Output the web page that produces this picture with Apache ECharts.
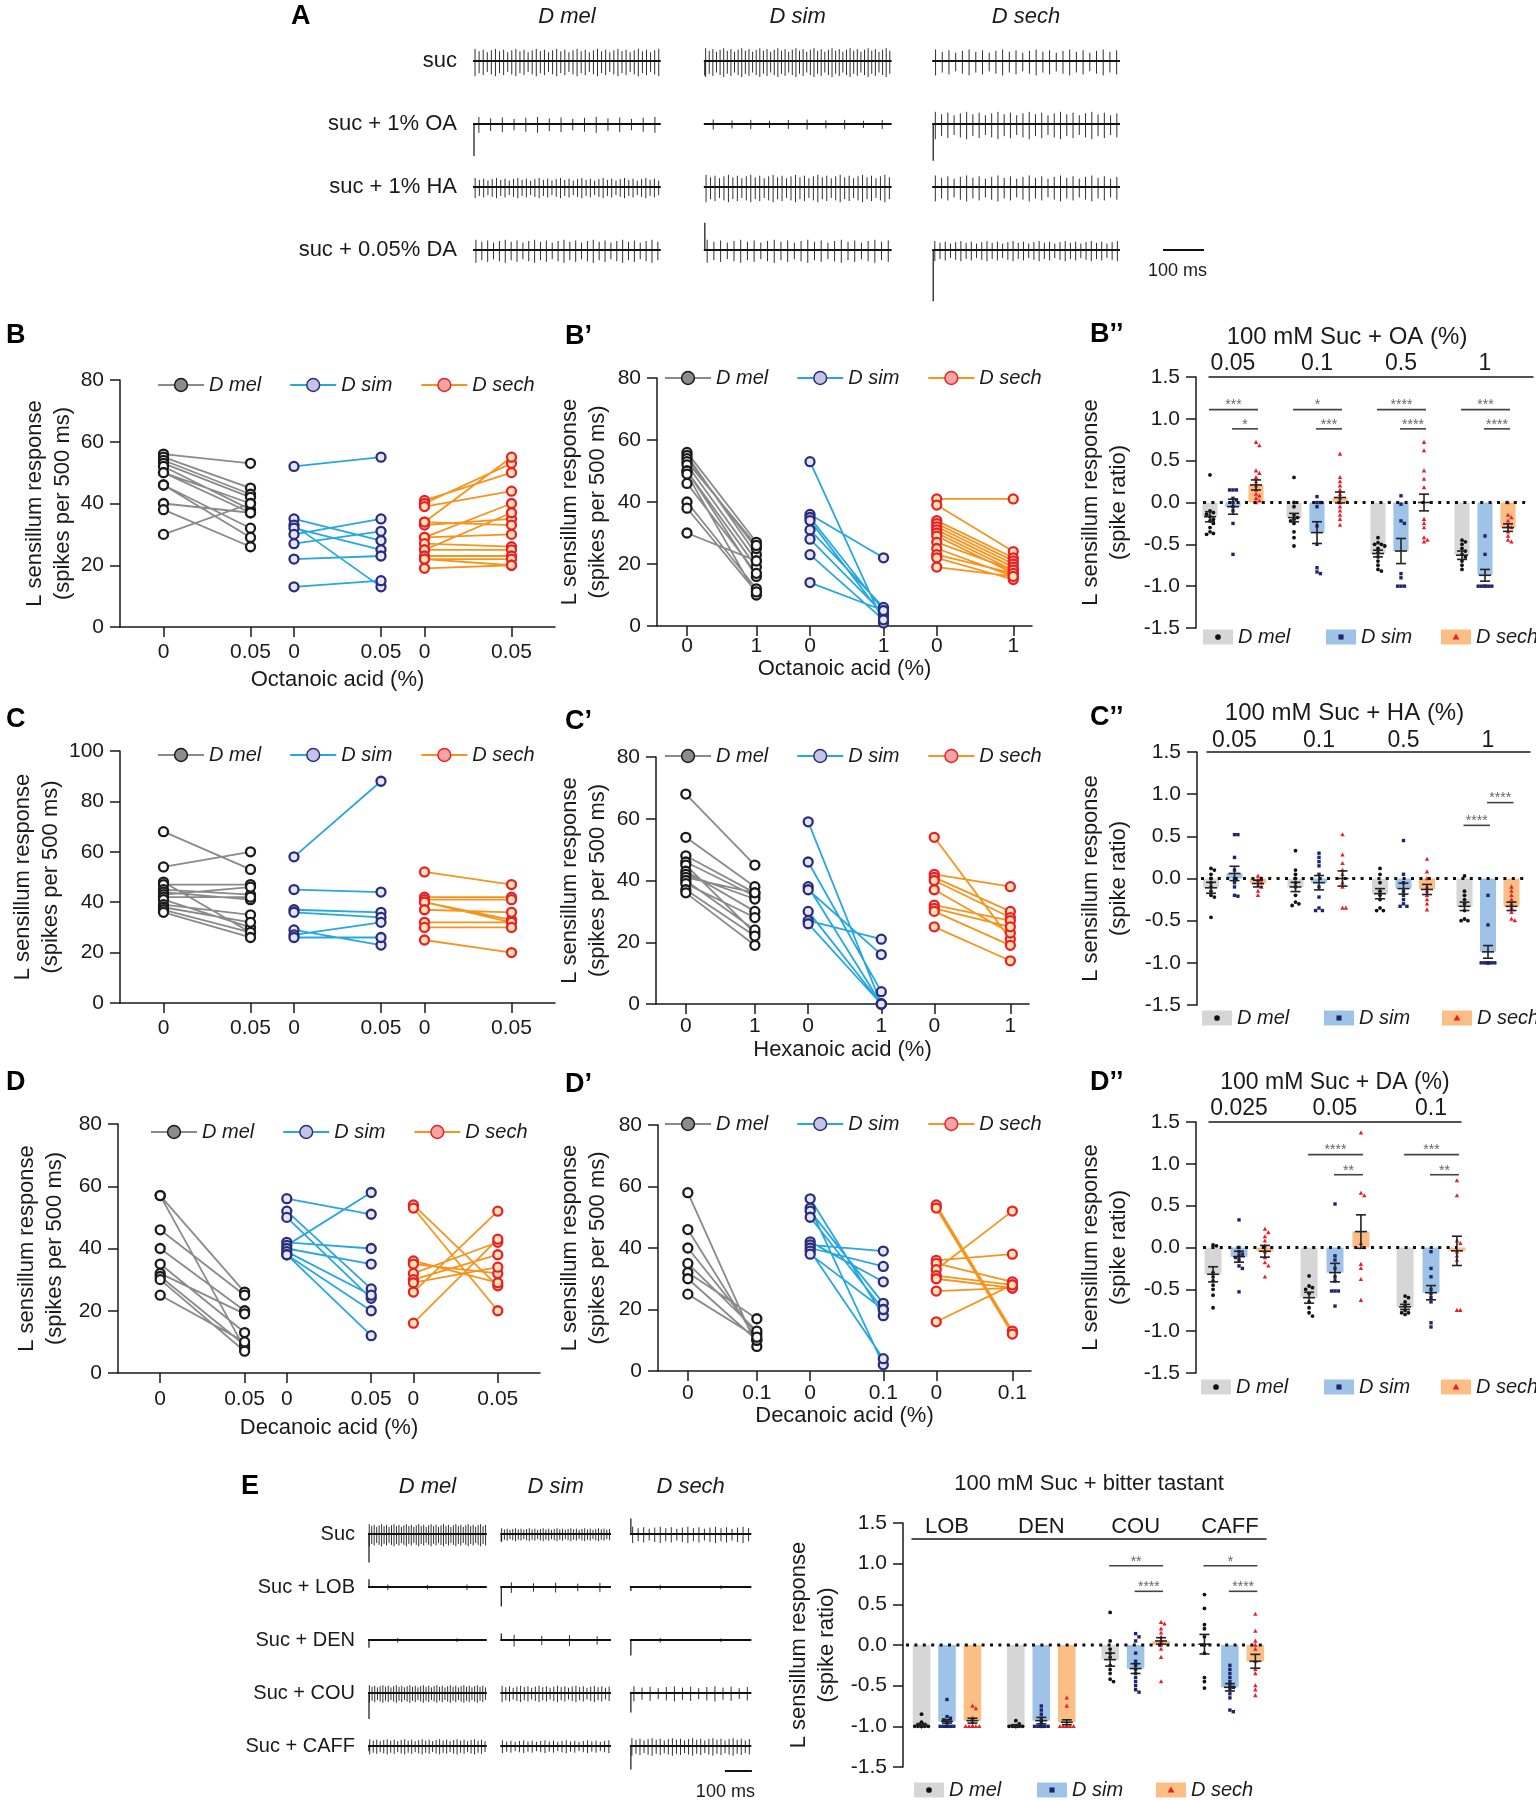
<!DOCTYPE html>
<html><head><meta charset="utf-8">
<script src="https://cdn.jsdelivr.net/npm/echarts@6/dist/echarts.min.js"></script>
<style>html,body{margin:0;padding:0;background:#fff}#c{width:1536px;height:1800px}</style>
</head><body><div id="c"></div>
<script>
// ================= DATA =================
const SPECIES = ['D mel', 'D sim', 'D sech'];

// ---- Panel A traces ----
const traceA_rows = ['suc', 'suc + 1% OA', 'suc + 1% HA', 'suc + 0.05% DA'];
const traceA_cols = ['D mel', 'D sim', 'D sech'];
const traceA_spikes = [[46, 52, 28], [16, 10, 30], [44, 42, 30], [32, 28, 36]];
const traceA_amp = [[0.95, 1.0, 0.9], [0.55, 0.35, 0.95], [0.7, 0.95, 0.9], [0.8, 0.8, 0.7]];
const traceA_art = [[0, -0.9, 0], [-2.0, 0, -2.3], [0, 0, 0], [0, 1.7, -3.2]];

// ---- Panel E traces ----
const traceE_rows = ['Suc', 'Suc + LOB', 'Suc + DEN', 'Suc + COU', 'Suc + CAFF'];
const traceE_cols = ['D mel', 'D sim', 'D sech'];
const traceE_spikes = [[48, 40, 22], [3, 5, 2], [2, 4, 2], [44, 30, 15], [34, 26, 30]];
const traceE_amp = [[0.95, 0.55, 0.7], [0.25, 0.45, 0.2], [0.2, 0.5, 0.2], [0.75, 0.7, 0.65], [0.65, 0.55, 0.75]];
const traceE_art = [[-2.2, -0.6, 1.2], [0.6, -1.5, -0.3], [-0.6, 0.5, -1.2], [-2.0, 0, -1.5], [-0.4, 0, -1.8]];

// ---- Paired panels (spikes per 500 ms): before / after ----
const B_mel_0 = [56, 55, 54, 53, 52, 50, 50, 46, 46, 40, 38, 30];
const B_mel_1 = [53, 45, 43, 42, 38, 40, 37, 32, 29, 37, 26, 40];
const B_sim_0 = [52, 35, 33, 32, 30, 27, 22, 13];
const B_sim_1 = [55, 28, 13, 25, 35, 31, 23, 15];
const B_sech_0 = [41, 40, 39, 34, 33, 34, 29, 29, 27, 25, 25, 23, 22, 22, 19];
const B_sech_1 = [50, 53, 44, 55, 35, 33, 40, 30, 26, 37, 25, 23, 22, 20, 20];
const B_ticks = ['0', '0.05', '0', '0.05', '0', '0.05'];

const Bp_mel_0 = [56, 55, 54, 53, 52, 50, 50, 49, 46, 40, 38, 30];
const Bp_mel_1 = [27, 23, 25, 26, 21, 19, 16, 10, 17, 12, 11, 21];
const Bp_sim_0 = [53, 36, 35, 34, 31, 28, 23, 14];
const Bp_sim_1 = [1, 22, 5, 3, 6, 4, 2, 5];
const Bp_sech_0 = [41, 39, 34, 33, 32, 31, 30, 29, 27, 25, 23, 22, 19];
const Bp_sech_1 = [41, 24, 22, 21, 20, 19, 18, 17, 18, 16, 17, 15, 16];
const Bp_ticks = ['0', '1', '0', '1', '0', '1'];

const C_mel_0 = [68, 54, 48, 47, 45, 44, 43, 42, 41, 39, 38, 37, 36];
const C_mel_1 = [53, 60, 28, 47, 43, 41, 46, 42, 30, 35, 32, 28, 26];
const C_sim_0 = [58, 45, 37, 36, 29, 27, 26];
const C_sim_1 = [88, 44, 36, 34, 23, 32, 26];
const C_sech_0 = [52, 42, 41, 40, 40, 37, 32, 30, 25];
const C_sech_1 = [47, 42, 41, 33, 32, 36, 32, 30, 20];
const C_ticks = ['0', '0.05', '0', '0.05', '0', '0.05'];

const Cp_mel_0 = [68, 54, 48, 46, 45, 43, 42, 41, 40, 39, 37, 36];
const Cp_mel_1 = [45, 38, 36, 35, 23, 30, 34, 36, 24, 28, 22, 19];
const Cp_sim_0 = [59, 46, 38, 37, 30, 27, 26];
const Cp_sim_1 = [0, 4, 0, 16, 0, 21, 0];
const Cp_sech_0 = [54, 42, 41, 40, 37, 32, 31, 30, 25];
const Cp_sech_1 = [21, 38, 30, 28, 23, 27, 25, 19, 14];
const Cp_ticks = ['0', '1', '0', '1', '0', '1'];

const D_mel_0 = [57, 57, 46, 40, 35, 32, 31, 30, 25];
const D_mel_1 = [8, 26, 25, 20, 13, 19, 9, 7, 10];
const D_sim_0 = [56, 52, 50, 42, 41, 40, 39, 38, 38];
const D_sim_1 = [51, 27, 24, 40, 58, 35, 25, 20, 12];
const D_sech_0 = [54, 53, 36, 35, 32, 30, 29, 26, 16];
const D_sech_1 = [28, 20, 29, 32, 42, 38, 34, 52, 43];
const D_ticks = ['0', '0.05', '0', '0.05', '0', '0.05'];

const Dp_mel_0 = [58, 46, 40, 35, 32, 30, 25];
const Dp_mel_1 = [8, 10, 12, 13, 17, 10, 11];
const Dp_sim_0 = [56, 53, 52, 50, 42, 41, 40, 39, 38];
const Dp_sim_1 = [18, 2, 22, 20, 29, 39, 34, 4, 20];
const Dp_sech_0 = [54, 53, 36, 35, 33, 31, 30, 26, 16];
const Dp_sech_1 = [13, 12, 38, 29, 52, 28, 27, 27, 28];
const Dp_ticks = ['0', '0.1', '0', '0.1', '0', '0.1'];

// ---- Spike-ratio bar panels ----
const BB_groups = ['0.05', '0.1', '0.5', '1'];
const BB_mel_mean = [-0.17, -0.18, -0.61, -0.63];
const BB_sim_mean = [-0.05, -0.36, -0.58, -0.87];
const BB_sech_mean = [0.21, 0.06, 0.0, -0.3];
const BB_mel_sem = [0.06, 0.05, 0.04, 0.05];
const BB_sim_sem = [0.09, 0.13, 0.15, 0.07];
const BB_sech_sem = [0.06, 0.065, 0.1, 0.045];
const BB_mel_pts = [[0.33, -0.1, -0.12, -0.14, -0.17, -0.2, -0.22, -0.25, -0.3, -0.35, -0.37, -0.38],
  [0.3, 0.0, -0.05, -0.15, -0.18, -0.2, -0.22, -0.25, -0.35, -0.42, -0.52],
  [-0.42, -0.48, -0.5, -0.5, -0.52, -0.55, -0.6, -0.65, -0.7, -0.75, -0.8, -0.82],
  [-0.45, -0.47, -0.5, -0.55, -0.58, -0.62, -0.65, -0.7, -0.75, -0.8]];
const BB_sim_pts = [[0.15, 0.15, 0.15, 0.05, 0.03, 0.0, -0.05, -0.1, -0.25, -0.62],
  [0.07, 0.0, 0.0, -0.05, -0.28, -0.5, -0.78, -0.83, -0.85],
  [0.08, -0.02, -0.22, -0.25, -0.85, -0.9, -1.0, -1.0, -1.0],
  [-0.4, -0.62, -1.0, -1.0, -1.0, -1.0, -1.0, -1.0]];
const BB_sech_pts = [[0.72, 0.68, 0.38, 0.35, 0.3, 0.25, 0.2, 0.15, 0.1, 0.08, 0.05, 0.02, 0.0],
  [0.58, 0.3, 0.25, 0.2, 0.15, 0.1, 0.05, 0.0, -0.05, -0.1, -0.15, -0.2, -0.27],
  [0.72, 0.62, 0.38, 0.28, 0.18, -0.2, -0.25, -0.3, -0.42, -0.45, -0.47],
  [0.0, -0.15, -0.18, -0.22, -0.28, -0.3, -0.35, -0.4, -0.45, -0.47]];
const BB_sig = [[0, 0, 2, 1, '***'], [0, 1, 2, 0, '*'], [1, 0, 2, 1, '*'], [1, 1, 2, 0, '***'],
  [2, 0, 2, 1, '****'], [2, 1, 2, 0, '****'], [3, 0, 2, 1, '***'], [3, 1, 2, 0, '****']];

const CC_groups = ['0.05', '0.1', '0.5', '1'];
const CC_mel_mean = [-0.11, -0.1, -0.18, -0.33];
const CC_sim_mean = [0.06, -0.05, -0.12, -0.87];
const CC_sech_mean = [-0.06, 0.0, -0.13, -0.33];
const CC_mel_sem = [0.065, 0.055, 0.06, 0.05];
const CC_sim_sem = [0.085, 0.085, 0.065, 0.075];
const CC_sech_sem = [0.04, 0.09, 0.06, 0.05];
const CC_mel_pts = [[0.12, 0.1, 0.05, 0.0, -0.05, -0.1, -0.15, -0.2, -0.22, -0.46],
  [0.33, 0.1, 0.05, 0.0, -0.05, -0.1, -0.2, -0.28, -0.3, -0.32],
  [0.12, 0.05, -0.05, -0.15, -0.2, -0.25, -0.35, -0.38, -0.38],
  [0.03, -0.15, -0.2, -0.25, -0.3, -0.38, -0.48, -0.5, -0.5]];
const CC_sim_pts = [[0.52, 0.52, 0.25, 0.1, 0.0, -0.05, -0.1, -0.2, -0.21],
  [0.3, 0.25, 0.2, 0.15, 0.05, -0.1, -0.22, -0.35, -0.38, -0.38],
  [0.45, 0.05, -0.05, -0.15, -0.2, -0.25, -0.3, -0.33, -0.33],
  [-0.2, -0.55, -1.0, -1.0, -1.0, -1.0, -1.0, -1.0, -1.0]];
const CC_sech_pts = [[0.03, 0.0, -0.02, -0.05, -0.08, -0.1, -0.15, -0.2],
  [0.52, 0.28, 0.18, 0.1, 0.05, -0.05, -0.1, -0.35, -0.35],
  [0.23, 0.08, 0.0, -0.1, -0.15, -0.2, -0.25, -0.3, -0.37],
  [-0.1, -0.15, -0.2, -0.25, -0.3, -0.35, -0.4, -0.48, -0.5]];
const CC_sig = [[3, 0, 1, 0, '****'], [3, 1, 2, 1, '****']];

const DD_groups = ['0.025', '0.05', '0.1'];
const DD_mel_mean = [-0.32, -0.6, -0.71];
const DD_sim_mean = [-0.11, -0.3, -0.54];
const DD_sech_mean = [-0.045, 0.19, -0.04];
const DD_mel_sem = [0.09, 0.065, 0.03];
const DD_sim_sem = [0.065, 0.11, 0.085];
const DD_sech_sem = [0.07, 0.2, 0.175];
const DD_mel_pts = [[0.03, 0.02, -0.3, -0.35, -0.4, -0.45, -0.5, -0.57, -0.72],
  [-0.34, -0.46, -0.48, -0.5, -0.55, -0.65, -0.72, -0.78, -0.82],
  [-0.58, -0.6, -0.65, -0.7, -0.75, -0.78, -0.78, -0.8]];
const DD_sim_pts = [[0.33, 0.0, -0.05, -0.08, -0.1, -0.12, -0.15, -0.22, -0.25, -0.53],
  [0.52, -0.1, -0.15, -0.25, -0.35, -0.4, -0.52, -0.52, -0.52, -0.7],
  [-0.05, -0.25, -0.35, -0.5, -0.55, -0.6, -0.65, -0.9, -0.95]];
const DD_sech_pts = [[0.22, 0.18, 0.13, 0.08, 0.02, -0.05, -0.12, -0.18, -0.22, -0.35],
  [1.37, 0.65, 0.62, 0.05, -0.2, -0.25, -0.38, -0.63],
  [0.8, 0.62, 0.08, 0.05, -0.05, -0.1, -0.15, -0.75, -0.75]];
const DD_sig = [[1, 0, 2, 1, '****'], [1, 1, 2, 0, '**'], [2, 0, 2, 1, '***'], [2, 1, 2, 0, '**']];

const EE_groups = ['LOB', 'DEN', 'COU', 'CAFF'];
const EE_mel_mean = [-0.98, -0.99, -0.18, 0.01];
const EE_sim_mean = [-0.94, -0.93, -0.29, -0.52];
const EE_sech_mean = [-0.93, -0.95, 0.05, -0.2];
const EE_mel_sem = [0.015, 0.01, 0.08, 0.12];
const EE_sim_sem = [0.02, 0.04, 0.06, 0.045];
const EE_sech_sem = [0.03, 0.03, 0.04, 0.085];
const EE_mel_pts = [[-0.85, -0.95, -1, -1, -1, -1, -1, -1, -1, -1, -1, -1],
  [-0.93, -0.97, -1, -1, -1, -1, -1, -1, -1, -1, -1],
  [0.4, 0.05, -0.05, -0.1, -0.15, -0.25, -0.3, -0.35, -0.42, -0.45],
  [0.62, 0.45, 0.25, 0.2, 0.1, 0.0, -0.1, -0.4, -0.45, -0.53]];
const EE_sim_pts = [[-0.67, -0.88, -0.9, -0.92, -0.95, -1, -1, -1, -1, -1, -1, -1, -1],
  [-0.75, -0.8, -0.85, -0.9, -0.95, -1, -1, -1, -1, -1, -1, -1, -1, -1],
  [0.14, 0.1, 0.05, -0.1, -0.2, -0.25, -0.3, -0.35, -0.4, -0.45, -0.5, -0.55, -0.58],
  [-0.25, -0.3, -0.35, -0.4, -0.45, -0.5, -0.52, -0.55, -0.6, -0.65, -0.8, -0.82]];
const EE_sech_pts = [[-0.75, -0.78, -0.9, -0.95, -1, -1, -1, -1, -1, -1, -1, -1],
  [-0.65, -0.75, -1, -1, -1, -1, -1, -1, -1, -1, -1, -1],
  [0.28, 0.26, 0.2, 0.15, 0.1, 0.05, 0.0, -0.05, -0.15, -0.45],
  [0.38, 0.17, 0.05, 0.0, -0.05, -0.2, -0.3, -0.35, -0.5, -0.55, -0.62]];
const EE_sig = [[2, 0, 2, 1, '**'], [2, 1, 2, 0, '****'], [3, 0, 2, 1, '*'], [3, 1, 2, 0, '****']];

// ================= STYLE / LAYOUT =================
const FONT = 'Liberation Sans';
const INK = '#1a1a1a';
const LINE_COLOR = ['#8a8a8a', '#27a7e0', '#f7941d'];
const DOT_BORDER = ['#1a1a1a', '#2a2d7c', '#e8202a'];
const DOT_FILL = ['#ffffff', '#e6e6f5', '#fbe3b0'];
const LEG_FILL = ['#8c8c8c', '#c6c4e6', '#f5a4a4'];
const BAR_FILL = ['#d6d6d6', '#9fc3e7', '#fbbf86'];
const PT_COLOR = ['#111111', '#1d2470', '#ee1c25'];
const POS_STD = [1, 3, 4, 6, 7, 9];
const POS_PRIME = [0.8, 2.65, 4.08, 6.04, 7.46, 9.5];
const TITLE_FS = 22;

const grids = [], xAxes = [], yAxes = [], series = [], legends = [];
const axisLineStyle = { color: INK, width: 1.5 };

function swarm(ys, d, maxOff) {
  const idx = ys.map((_, i) => i).sort((a, b) => ys[a] - ys[b]);
  const placed = [], off = [];
  const cands = [0];
  for (let k = 1; k * d <= maxOff + 0.01; k++) cands.push(k * d, -k * d);
  for (const i of idx) {
    let best = 0, bestScore = -1;
    for (const o of cands) {
      let m = Infinity;
      for (const p of placed) { const dd = Math.hypot(p[0] - o, p[1] - ys[i]); if (dd < m) m = dd; }
      if (m >= d) { best = o; break; }
      if (m > bestScore) { bestScore = m; best = o; }
    }
    off[i] = best; placed.push([best, ys[i]]);
  }
  return off;
}

function marker(s, x, y, k) {
  if (s === 0) return { type: 'circle', shape: { cx: x, cy: y, r: 1.9 * k }, style: { fill: PT_COLOR[0] } };
  if (s === 1) return { type: 'rect', shape: { x: x - 1.7 * k, y: y - 1.7 * k, width: 3.4 * k, height: 3.4 * k }, style: { fill: PT_COLOR[1] } };
  return { type: 'polygon', shape: { points: [[x, y - 2.4 * k], [x + 2.2 * k, y + 1.7 * k], [x - 2.2 * k, y + 1.7 * k]] }, style: { fill: PT_COLOR[2] } };
}

function addLinePanel(P, pairs) {
  const i = grids.length;
  grids.push({ left: P.left, top: P.top, width: P.width, height: P.height });
  xAxes.push({
    gridIndex: i, type: 'value', min: 0, max: 10,
    name: P.xTitle || '', nameLocation: 'middle', nameGap: P.nameGap || 40,
    nameTextStyle: { fontSize: TITLE_FS, color: INK, fontFamily: FONT },
    axisLine: { show: true, onZero: false, lineStyle: axisLineStyle },
    axisTick: { show: true, customValues: P.xPos, length: 10, lineStyle: axisLineStyle },
    axisLabel: { customValues: P.xPos, margin: P.labelMargin, fontSize: 21, color: INK, fontFamily: FONT,
      formatter: v => { const j = P.xPos.findIndex(p => Math.abs(p - v) < 1e-6); return j >= 0 ? P.xLabels[j] : ''; } },
    splitLine: { show: false }
  });
  yAxes.push({
    gridIndex: i, type: 'value', min: 0, max: P.yMax, interval: 20,
    name: 'L sensillum response\n(spikes per 500 ms)', nameLocation: 'middle', nameGap: P.yNameGap,
    nameTextStyle: { fontSize: TITLE_FS, lineHeight: 28, color: INK, fontFamily: FONT },
    axisLine: { show: true, onZero: false, lineStyle: axisLineStyle },
    axisTick: { show: true, length: 10, lineStyle: axisLineStyle },
    axisLabel: { fontSize: 21, margin: 16, color: INK, fontFamily: FONT },
    splitLine: { show: false }
  });
  pairs.forEach((pr, s) => {
    const a = pr[0], b = pr[1], data = [];
    a.forEach((v, k) => { data.push([P.xPos[2 * s], v], [P.xPos[2 * s + 1], b[k]], [P.xPos[2 * s + 1], '-']); });
    series.push({
      type: 'line', name: SPECIES[s], xAxisIndex: i, yAxisIndex: i, data,
      symbol: 'circle', symbolSize: 9, connectNulls: false, animation: false, z: 3,
      lineStyle: { color: LINE_COLOR[s], width: 1.8 },
      itemStyle: { color: DOT_FILL[s], borderColor: DOT_BORDER[s], borderWidth: 2.3 },
      emphasis: { disabled: true }
    });
  });
  legends.push({
    left: P.legLeft, top: P.legTop, itemWidth: 46, itemHeight: 16, itemGap: 28, selectedMode: false, padding: 0,
    textStyle: { fontSize: 20, fontStyle: 'italic', color: INK, fontFamily: FONT },
    data: SPECIES.map((n, s) => ({ name: n, itemStyle: { color: LEG_FILL[s], borderColor: DOT_BORDER[s], borderWidth: 1.5 },
      lineStyle: { color: LINE_COLOR[s], width: 2 } }))
  });
}

function addBarPanel(P, D) {
  const i = grids.length;
  grids.push({ left: P.left, top: P.top, width: P.width, height: P.height });
  const xmin = -P.firstPx / P.band, xmax = (P.width - P.firstPx) / P.band;
  const gIdx = D.groups.map((_, g) => g);
  xAxes.push({
    gridIndex: i, type: 'value', position: 'top', min: xmin, max: xmax, offset: P.headOffset || 0,
    name: P.title, nameLocation: 'middle', nameGap: P.titleGap,
    nameTextStyle: { fontSize: P.titleFs, color: INK, fontFamily: FONT, padding: [0, 2 * (P.titleShift || 0), 0, 0] },
    axisLine: { show: true, onZero: false, lineStyle: axisLineStyle }, axisTick: { show: false },
    axisLabel: { customValues: gIdx, margin: P.groupMargin, fontSize: P.headFs, color: INK, fontFamily: FONT,
      formatter: v => D.groups[Math.round(v)] },
    splitLine: { show: false }
  });
  yAxes.push({
    gridIndex: i, type: 'value', min: -1.5, max: 1.5, interval: 0.5, offset: P.yOffset,
    name: 'L sensillum response\n(spike ratio)', nameLocation: 'middle', nameGap: P.yNameGap,
    nameTextStyle: { fontSize: TITLE_FS, lineHeight: 28, color: INK, fontFamily: FONT },
    axisLine: { show: true, onZero: false, lineStyle: axisLineStyle },
    axisTick: { show: true, length: 10, lineStyle: axisLineStyle },
    axisLabel: { fontSize: 21, margin: 16, color: INK, fontFamily: FONT, formatter: v => v.toFixed(1) },
    splitLine: { show: false }
  });
  for (let s = 0; s < 3; s++) {
    const means = D.mean[s], sems = D.sem[s], pts = D.pts[s];
    series.push({
      type: 'custom', name: 'bars_' + i + '_' + s, xAxisIndex: i, yAxisIndex: i, z: 2, animation: false, clip: false, silent: true,
      data: means.map((m, g) => [g, m]),
      renderItem: (params, api) => {
        const g = params.dataIndex, m = means[g], e = sems[g];
        const xc = g + (s - 1) * P.spOff;
        const pM = api.coord([xc, m]), p0 = api.coord([xc, 0]);
        const bw = api.size([P.barW, 0])[0];
        const ch = [];
        ch.push({ type: 'rect', shape: { x: pM[0] - bw / 2, y: Math.min(pM[1], p0[1]), width: bw, height: Math.abs(pM[1] - p0[1]) }, style: { fill: BAR_FILL[s] } });
        const ys = pts[g].map(v => api.coord([xc, v])[1]);
        const offs = swarm(ys, 3.4, bw / 2 + 1);
        ys.forEach((y, k) => ch.push(marker(s, pM[0] + offs[k], y, 1)));
        const pHi = api.coord([xc, m + e])[1], pLo = api.coord([xc, m - e])[1];
        const st = { stroke: '#222', lineWidth: 1.6 };
        ch.push({ type: 'line', shape: { x1: pM[0], y1: pHi, x2: pM[0], y2: pLo }, style: st });
        ch.push({ type: 'line', shape: { x1: pM[0] - 5, y1: pHi, x2: pM[0] + 5, y2: pHi }, style: st });
        ch.push({ type: 'line', shape: { x1: pM[0] - 5, y1: pLo, x2: pM[0] + 5, y2: pLo }, style: st });
        ch.push({ type: 'line', shape: { x1: pM[0] - 6, y1: pM[1], x2: pM[0] + 6, y2: pM[1] }, style: st });
        return { type: 'group', children: ch };
      }
    });
  }
  series.push({
    type: 'custom', name: 'decor_' + i, xAxisIndex: i, yAxisIndex: i, z: 5, animation: false, clip: false, silent: true,
    data: [[0, 0]],
    renderItem: (params, api) => {
      const cs = params.coordSys, ch = [];
      const y0 = api.coord([0, 0])[1];
      ch.push({ type: 'line', shape: { x1: cs.x - 6, y1: y0, x2: cs.x + cs.width - 4, y2: y0 }, style: { stroke: '#111', lineWidth: 3, lineDash: [3, 5.4] } });
      D.sig.forEach(([g, a, b, lev, lab]) => {
        const ya = api.coord([0, P.sigLevels[lev]])[1];
        const xa = api.coord([g + (a - 1) * P.spOff, 0])[0] - 1;
        const xb = api.coord([g + (b - 1) * P.spOff, 0])[0] + 2;
        ch.push({ type: 'line', shape: { x1: xa, y1: ya, x2: xb, y2: ya }, style: { stroke: '#444', lineWidth: 1.6 } });
        ch.push({ type: 'text', x: (xa + xb) / 2, y: ya - 4, style: { text: lab, fill: '#666', fontSize: 14, fontFamily: FONT, align: 'center', verticalAlign: 'middle' } });
      });
      const ax = cs.x - P.yOffset, ly = cs.y + cs.height + P.legDy;
      P.legOffs.forEach((o, s) => {
        ch.push({ type: 'rect', shape: { x: ax + o, y: ly - 7.5, width: 30, height: 15 }, style: { fill: BAR_FILL[s] } });
        ch.push(marker(s, ax + o + 15, ly, 1.5));
        ch.push({ type: 'text', x: ax + o + 35, y: ly, style: { text: SPECIES[s], fill: INK, fontSize: 20, fontStyle: 'italic', fontFamily: FONT, align: 'left', verticalAlign: 'middle' } });
      });
      return { type: 'group', children: ch };
    }
  });
}

function addTracePanel(P, T) {
  const i = grids.length;
  grids.push({ left: P.left, top: P.top, width: P.width, height: P.height });
  const centers = T.cols.map((_, c) => P.colStart[c] + P.dur[c] / 2);
  xAxes.push({
    gridIndex: i, type: 'value', position: 'top', min: 0, max: P.xMax,
    axisLine: { show: false }, axisTick: { show: false }, splitLine: { show: false },
    axisLabel: { customValues: centers, margin: P.headMargin, fontSize: 22, fontStyle: 'italic', color: INK, fontFamily: FONT,
      formatter: v => { const j = centers.findIndex(c => Math.abs(c - v) < 1e-6); return j >= 0 ? T.cols[j] : ''; } }
  });
  yAxes.push({
    gridIndex: i, type: 'category', inverse: true, data: T.rows,
    axisLine: { show: false }, axisTick: { show: false }, splitLine: { show: false },
    axisLabel: { fontSize: P.rowFont, margin: P.rowMargin, color: INK, fontFamily: FONT }
  });
  const nc = T.cols.length, data = [];
  T.rows.forEach((_, r) => T.cols.forEach((_, c) => data.push([P.colStart[c], r])));
  series.push({
    type: 'custom', name: 'trace_' + i, xAxisIndex: i, yAxisIndex: i, data, animation: false, clip: false, silent: true,
    renderItem: (params, api) => {
      const r = Math.floor(params.dataIndex / nc), c = params.dataIndex % nc;
      const t0 = P.colStart[c];
      const a = api.coord([t0, r]), b = api.coord([t0 + P.dur[c], r]);
      const y = a[1], x0 = a[0], x1 = b[0];
      const n = T.spikes[r][c], A = T.amp[r][c] * P.unit;
      const ch = [{ type: 'line', shape: { x1: x0, y1: y, x2: x1, y2: y }, style: { stroke: '#111', lineWidth: 2.2 } }];
      const pat = [1, 0.8, 0.93, 0.72, 0.88];
      for (let k = 0; k < n; k++) {
        const x = x0 + (x1 - x0) * (k + 0.5) / n, f = pat[k % pat.length];
        ch.push({ type: 'line', shape: { x1: x, y1: y - 0.8 * A * f, x2: x, y2: y + A * f }, style: { stroke: '#1a1a1a', lineWidth: 0.9 } });
      }
      const art = T.art[r][c];
      if (art) ch.push({ type: 'line', shape: { x1: x0 + 1, y1: y, x2: x0 + 1, y2: y - art * P.unit }, style: { stroke: '#111', lineWidth: 1.2 } });
      return { type: 'group', children: ch };
    }
  });
  series.push({
    type: 'custom', name: 'scale_' + i, xAxisIndex: i, yAxisIndex: i, data: [[P.barStart, T.rows.length - 1]],
    animation: false, clip: false, silent: true,
    renderItem: (params, api) => {
      const p = api.coord([P.barStart, T.rows.length - 1]), q = api.coord([P.barStart + 100, T.rows.length - 1]);
      const y = p[1] + P.barDy;
      return { type: 'group', children: [
        { type: 'line', shape: { x1: p[0], y1: y, x2: q[0], y2: y }, style: { stroke: '#111', lineWidth: 2 } },
        { type: 'text', x: q[0] + 3, y: y + P.barTextDy, style: { text: '100 ms', fill: INK, fontSize: 18, fontFamily: FONT, align: 'right', verticalAlign: 'middle' } }
      ] };
    }
  });
}

// ================= BUILD =================
addTracePanel({ left: 473, top: 29.5, width: 738, height: 252, xMax: 1800, colStart: [0, 563, 1120], dur: [458, 458, 458],
  headMargin: 2, rowMargin: 16, rowFont: 22, unit: 16, barStart: 1683, barDy: 0, barTextDy: 21 },
  { rows: traceA_rows, cols: traceA_cols, spikes: traceA_spikes, amp: traceA_amp, art: traceA_art });

addLinePanel({ left: 120, top: 380, width: 435, height: 247, yMax: 80, xPos: POS_STD, xLabels: B_ticks, xTitle: 'Octanoic acid (%)',
  labelMargin: 15, nameGap: 42, yNameGap: 43, legLeft: 157, legTop: 375 },
  [[B_mel_0, B_mel_1], [B_sim_0, B_sim_1], [B_sech_0, B_sech_1]]);
addLinePanel({ left: 657, top: 378, width: 375, height: 248, yMax: 80, xPos: POS_PRIME, xLabels: Bp_ticks, xTitle: 'Octanoic acid (%)',
  labelMargin: 10, nameGap: 32, yNameGap: 45, legLeft: 664, legTop: 368 },
  [[Bp_mel_0, Bp_mel_1], [Bp_sim_0, Bp_sim_1], [Bp_sech_0, Bp_sech_1]]);
addBarPanel({ left: 1209, top: 377, width: 324, height: 251, yOffset: 13, firstPx: 24, band: 84, spOff: 0.274, barW: 0.18, headFs: 23, titleFs: 24, titleShift: 24,
  title: '100 mM Suc + OA (%)', titleGap: 28, groupMargin: 2, yNameGap: 63, sigLevels: [0.88, 1.11], legDy: 9, legOffs: [7, 130, 245] },
  { groups: BB_groups, mean: [BB_mel_mean, BB_sim_mean, BB_sech_mean], sem: [BB_mel_sem, BB_sim_sem, BB_sech_sem],
    pts: [BB_mel_pts, BB_sim_pts, BB_sech_pts], sig: BB_sig });

addLinePanel({ left: 120, top: 751, width: 435, height: 252, yMax: 100, xPos: POS_STD, xLabels: C_ticks, xTitle: '',
  labelMargin: 15, nameGap: 43, yNameGap: 43, legLeft: 157, legTop: 745 },
  [[C_mel_0, C_mel_1], [C_sim_0, C_sim_1], [C_sech_0, C_sech_1]]);
addLinePanel({ left: 656, top: 757, width: 373, height: 247, yMax: 80, xPos: POS_PRIME, xLabels: Cp_ticks, xTitle: 'Hexanoic acid (%)',
  labelMargin: 12, nameGap: 35, yNameGap: 44, legLeft: 664, legTop: 746 },
  [[Cp_mel_0, Cp_mel_1], [Cp_sim_0, Cp_sim_1], [Cp_sech_0, Cp_sech_1]]);
addBarPanel({ left: 1207, top: 752, width: 323, height: 253, yOffset: 10, firstPx: 27.5, band: 84.5, spOff: 0.278, barW: 0.19, headFs: 23, titleFs: 24, titleShift: 24,
  title: '100 mM Suc + HA (%)', titleGap: 27, groupMargin: 0, yNameGap: 64, sigLevels: [0.63, 0.9], legDy: 13, legOffs: [5, 127, 245] },
  { groups: CC_groups, mean: [CC_mel_mean, CC_sim_mean, CC_sech_mean], sem: [CC_mel_sem, CC_sim_sem, CC_sech_sem],
    pts: [CC_mel_pts, CC_sim_pts, CC_sech_pts], sig: CC_sig });

addLinePanel({ left: 118, top: 1124, width: 422, height: 249, yMax: 80, xPos: POS_STD, xLabels: D_ticks, xTitle: 'Decanoic acid (%)',
  labelMargin: 16, nameGap: 44, yNameGap: 49, legLeft: 150, legTop: 1122 },
  [[D_mel_0, D_mel_1], [D_sim_0, D_sim_1], [D_sech_0, D_sech_1]]);
addLinePanel({ left: 658, top: 1125, width: 373, height: 246, yMax: 80, xPos: POS_PRIME, xLabels: Dp_ticks, xTitle: 'Decanoic acid (%)',
  labelMargin: 12, nameGap: 34, yNameGap: 46, legLeft: 664, legTop: 1114 },
  [[Dp_mel_0, Dp_mel_1], [Dp_sim_0, Dp_sim_1], [Dp_sech_0, Dp_sech_1]]);
addBarPanel({ left: 1209, top: 1122, width: 252, height: 251, yOffset: 13, firstPx: 30, band: 96, spOff: 0.27, barW: 0.177, headFs: 23, titleFs: 23, titleShift: 0,
  title: '100 mM Suc + DA (%)', titleGap: 28, groupMargin: 2, yNameGap: 63, sigLevels: [0.87, 1.11], legDy: 14, legOffs: [5, 128, 245] },
  { groups: DD_groups, mean: [DD_mel_mean, DD_sim_mean, DD_sech_mean], sem: [DD_mel_sem, DD_sim_sem, DD_sech_sem],
    pts: [DD_mel_pts, DD_sim_pts, DD_sech_pts], sig: DD_sig });

addTracePanel({ left: 368, top: 1507.5, width: 392, height: 265, xMax: 1452, colStart: [0, 490, 970], dur: [440, 410, 450],
  headMargin: 10, rowMargin: 13, rowFont: 20, unit: 13, barStart: 1322, barDy: 25, barTextDy: 21 },
  { rows: traceE_rows, cols: traceE_cols, spikes: traceE_spikes, amp: traceE_amp, art: traceE_art });
addBarPanel({ left: 912, top: 1523, width: 354, height: 244, yOffset: 9, firstPx: 35, band: 94.3, spOff: 0.27, barW: 0.186, headFs: 22, titleFs: 22, titleShift: 0,
  headOffset: -16, title: '100 mM Suc + bitter tastant', titleGap: 44, groupMargin: 1, yNameGap: 62, sigLevels: [0.66, 0.975], legDy: 23, legOffs: [11, 134, 253] },
  { groups: EE_groups, mean: [EE_mel_mean, EE_sim_mean, EE_sech_mean], sem: [EE_mel_sem, EE_sim_sem, EE_sech_sem],
    pts: [EE_mel_pts, EE_sim_pts, EE_sech_pts], sig: EE_sig });

const LETTERS = [['A', 291, 17], ['B', 6, 336], ['B\u2019', 565, 337], ['B\u2019\u2019', 1090, 335],
  ['C', 6, 720], ['C\u2019', 565, 722], ['C\u2019\u2019', 1090, 718],
  ['D', 6, 1083], ['D\u2019', 565, 1085], ['D\u2019\u2019', 1090, 1083], ['E', 241, 1487]];

const option = {
  backgroundColor: '#ffffff',
  animation: false,
  textStyle: { fontFamily: FONT },
  grid: grids, xAxis: xAxes, yAxis: yAxes, legend: legends, series,
  graphic: { elements: LETTERS.map(([t, x, y]) => ({ type: 'text', x, y,
    style: { text: t, fontSize: 27, fontWeight: 'bold', fontFamily: FONT, fill: '#000', verticalAlign: 'middle' } })) }
};
const chart = echarts.init(document.getElementById('c'), null, { renderer: 'canvas', width: 1536, height: 1800 });
chart.setOption(option);
</script></body></html>
